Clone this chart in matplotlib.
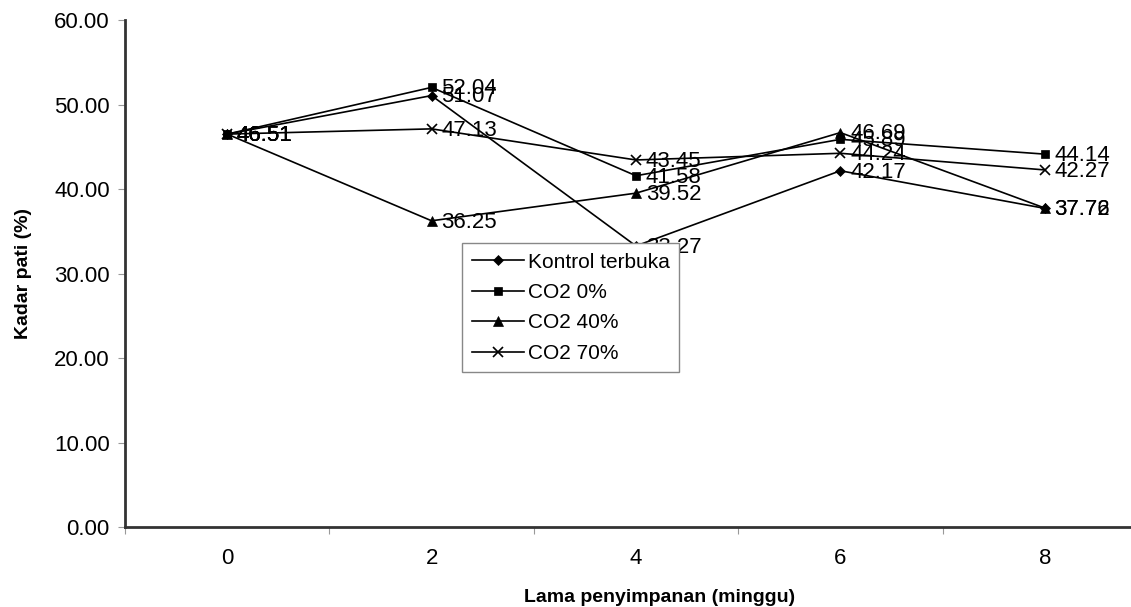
import matplotlib.pyplot as plt

plt.rcParams['font.family'] = ['Liberation Sans', 'DejaVu Sans']

# data
weeks = [0, 2, 4, 6, 8]
kontrol = [46.51, 51.07, 33.27, 42.17, 37.72]
co2_0 = [46.51, 52.04, 41.58, 45.89, 44.14]
co2_40 = [46.51, 36.25, 39.52, 46.69, 37.76]
co2_70 = [46.51, 47.13, 43.45, 44.24, 42.27]

series = [
    ('Kontrol terbuka', kontrol, 'D', 5),
    ('CO2 0%', co2_0, 's', 6),
    ('CO2 40%', co2_40, '^', 7),
    ('CO2 70%', co2_70, 'x', 7),
]

fig = plt.figure(figsize=(11.31, 6.07), dpi=100)
ax = fig.add_axes([0.1105, 0.1318, 0.9036, 0.835])

for name, vals, mk, ms in series:
    ax.plot(weeks, vals, color='black', linewidth=1.2, marker=mk, markersize=ms,
            markeredgewidth=1.2 if mk == 'x' else 0.5, label=name, zorder=3)
    for x, y in zip(weeks, vals):
        ax.annotate(f'{y:.2f}', (x, y), xytext=(7, -1), textcoords='offset points',
                    va='center', ha='left', fontsize=16, color='black', zorder=3)

ax.set_xlim(-1, 9)
ax.set_ylim(0, 60)
ax.set_yticks(range(0, 61, 10))
ax.set_yticklabels([f'{v:.2f}' for v in range(0, 61, 10)], fontsize=16)
ax.set_xticks(weeks)
ax.set_xticklabels([str(w) for w in weeks], fontsize=16)
ax.set_xticks([-1, 1, 3, 5, 7, 9], minor=True)
ax.tick_params(axis='x', which='major', length=0, pad=15)
ax.tick_params(axis='x', which='minor', length=5, color='#999999', width=0.8)
ax.tick_params(axis='y', length=5, color='#999999', width=0.8, pad=6)

for side in ['top', 'right']:
    ax.spines[side].set_visible(False)
for side in ['left', 'bottom']:
    ax.spines[side].set_linewidth(2)
    ax.spines[side].set_color('#333333')

ax.set_xlabel('Lama penyimpanan (minggu)', fontsize=14, fontweight='bold')
ax.xaxis.set_label_coords(0.523, -0.122)
ax.set_ylabel('Kadar pati (%)', fontsize=14, fontweight='bold', labelpad=16)

leg = ax.legend(loc='upper left', bbox_to_anchor=(0.33, 0.56), fontsize=15,
                frameon=True, fancybox=False, edgecolor='#888888', framealpha=1,
                borderaxespad=0, handlelength=2.5, labelspacing=0.55,
                borderpad=0.45, handletextpad=0.2)
leg.get_frame().set_linewidth(1)
leg.set_zorder(5)

plt.savefig('out.png', dpi=100)
